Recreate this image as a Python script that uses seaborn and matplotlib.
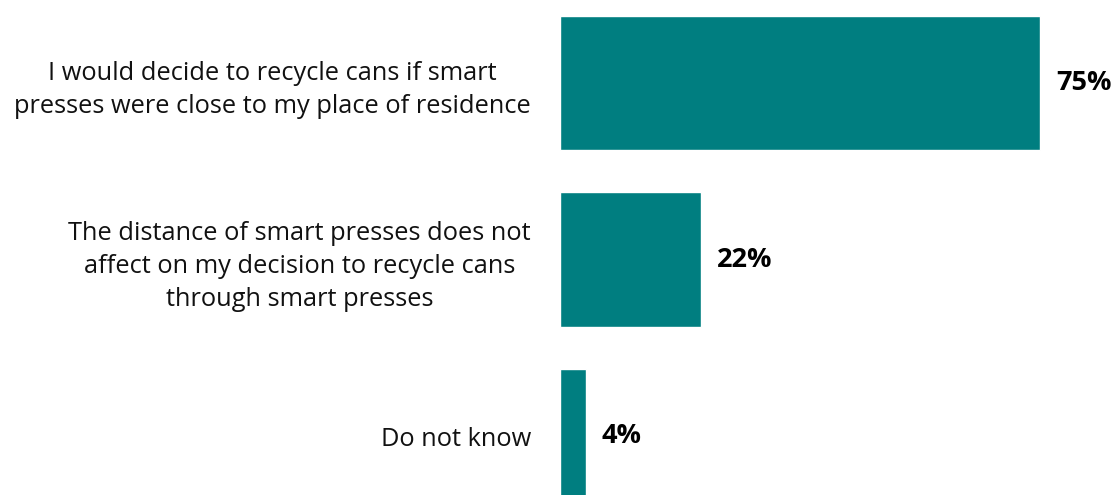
import matplotlib
matplotlib.use("Agg")
import matplotlib.pyplot as plt
import seaborn as sns
import pandas as pd

categories = [
    "I would decide to recycle cans if smart\npresses were close to my place of residence",
    "The distance of smart presses does not\naffect on my decision to recycle cans\nthrough smart presses",
    "Do not know",
]
values = [75, 22, 4]
value_labels = ["75%", "22%", "4%"]

df = pd.DataFrame({"category": categories, "value": values})

sns.set_theme(style="white")
plt.rcParams["font.family"] = ["Open Sans", "DejaVu Sans"]

W, H = 1115, 495
fig = plt.figure(figsize=(W / 100, H / 100), dpi=100)
ax = fig.add_axes([560 / W, 0, (W - 560) / W, 1])

sns.barplot(data=df, y="category", x="value", orient="h", color="#007E80",
            saturation=1, width=0.76, ax=ax)

px_per_unit = 480 / 75
ax.set_xlim(0, (W - 560) / px_per_unit)
ax.set_ylim(2.334, -0.470)

for i, (v, lab) in enumerate(zip(values, value_labels)):
    ax.text(v + 16 / px_per_unit, i, lab, va="center", ha="left",
            fontsize=19.5, fontweight="bold", color="black")

ax.set_yticks(range(len(categories)))
ax.set_yticklabels(categories, fontsize=18.3, color="#111111",
                   multialignment="center", linespacing=1.41)
ax.tick_params(axis="y", length=0, pad=21)
ax.set_xticks([])
ax.set_xlabel("")
ax.set_ylabel("")
for s in ax.spines.values():
    s.set_visible(False)

fig.savefig("out.png", dpi=100)
